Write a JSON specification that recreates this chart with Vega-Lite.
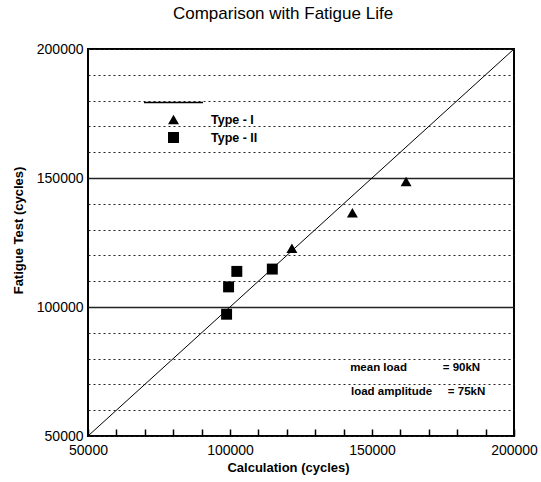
{
  "$schema": "https://vega.github.io/schema/vega-lite/v6.json",
  "width": 426,
  "height": 387,
  "autosize": "none",
  "padding": {"left": 88, "top": 49, "right": 27, "bottom": 46},
  "background": "white",
  "title": {"text": "Comparison with Fatigue Life", "fontSize": 17, "fontWeight": "normal", "font": "Liberation Sans", "anchor": "middle", "dx": -18, "offset": 19, "color": "black"},
  "config": {
    "view": {"stroke": "black", "strokeWidth": 2},
    "axis": {"labelFont": "Liberation Sans", "labelFontSize": 14, "labelColor": "black", "titleFont": "Liberation Sans", "titleFontSize": 13, "titleFontWeight": "bold", "titleColor": "black", "domain": false, "gridColor": "#222", "labelFlush": false, "labelOverlap": false, "tickCount": 15,
      "labelExpr": "datum.value % 50000 === 0 ? format(datum.value, 'd') : ''"},
    "axisX": {
      "ticks": true,
      "tickColor": "black",
      "tickWidth": 1.5,
      "tickSize": -7,
      "labelPadding": 14,
      "titlePadding": 4,
      "titleX": 200,
      "grid": true,
      "gridDash": [2, 3],
      "gridOpacity": {"condition": {"test": "datum.value === 100000 || datum.value === 150000", "value": 1}, "value": 0}
    },
    "axisY": {
      "ticks": false,
      "labelPadding": 5,
      "titlePadding": 11,
      "titleY": 181,
      "grid": true,
      "gridDash": {"condition": {"test": "datum.value === 100000 || datum.value === 150000", "value": []}, "value": [2, 3]},
      "gridWidth": {"condition": {"test": "datum.value === 100000 || datum.value === 150000", "value": 1.5}, "value": 1}
    },
    "text": {"align": "left", "baseline": "middle", "font": "Liberation Sans", "fontSize": 11.5, "fontWeight": "bold", "color": "black"}
  },
  "datasets": {
    "points": [
      {"calc": 98800, "test": 97200, "type": "Type - II"},
      {"calc": 99500, "test": 107800, "type": "Type - II"},
      {"calc": 102400, "test": 113800, "type": "Type - II"},
      {"calc": 114900, "test": 114700, "type": "Type - II"},
      {"calc": 121800, "test": 122800, "type": "Type - I"},
      {"calc": 143100, "test": 136500, "type": "Type - I"},
      {"calc": 162000, "test": 148600, "type": "Type - I"}
    ],
    "diag": [
      {"calc": 50000, "test": 50000, "series": "Calculation"},
      {"calc": 200000, "test": 200000, "series": "Calculation"}
    ]
  },
  "layer": [
    {
      "data": {"name": "diag"},
      "mark": {"type": "line", "strokeWidth": 1},
      "encoding": {
        "x": {"field": "calc", "type": "quantitative", "title": "Calculation (cycles)",
          "scale": {"domain": [50000, 200000], "nice": false, "zero": false}},
        "y": {"field": "test", "type": "quantitative", "title": "Fatigue Test (cycles)",
          "scale": {"domain": [50000, 200000], "nice": false, "zero": false}},
        "color": {"field": "series", "type": "nominal", "scale": {"range": ["black"]},
          "legend": {"orient": "none", "legendX": 55, "legendY": 23, "title": null, "labelExpr": "''", "symbolType": "stroke", "symbolSize": 3481, "symbolStrokeWidth": 1.5, "padding": 0}
        }
      }
    },
    {
      "data": {"name": "points"},
      "mark": {"type": "point", "filled": true, "color": "black", "opacity": 1},
      "encoding": {
        "x": {"field": "calc", "type": "quantitative"},
        "y": {"field": "test", "type": "quantitative"},
        "shape": {"field": "type", "type": "nominal",
          "scale": {"domain": ["Type - I", "Type - II"], "range": ["triangle-up", "square"]},
          "legend": {"orient": "none", "legendX": 79, "legendY": 64, "title": null, "padding": 0, "symbolSize": 120, "symbolFillColor": "black", "symbolStrokeColor": "black", "symbolOpacity": 1, "labelFont": "Liberation Sans", "labelFontSize": 12.5, "labelFontWeight": "bold", "labelColor": "black", "labelOffset": 31, "rowPadding": 1}
        },
        "size": {"value": 120}
      }
    },
    {
      "data": {"values": [{}]},
      "mark": {"type": "text"},
      "encoding": {"x": {"datum": 142300, "type": "quantitative"}, "y": {"datum": 76200, "type": "quantitative"}, "text": {"value": "mean load"}}
    },
    {
      "data": {"values": [{}]},
      "mark": {"type": "text"},
      "encoding": {"x": {"datum": 174900, "type": "quantitative"}, "y": {"datum": 76200, "type": "quantitative"}, "text": {"value": "= 90kN"}}
    },
    {
      "data": {"values": [{}]},
      "mark": {"type": "text"},
      "encoding": {"x": {"datum": 142600, "type": "quantitative"}, "y": {"datum": 67200, "type": "quantitative"}, "text": {"value": "load amplitude"}}
    },
    {
      "data": {"values": [{}]},
      "mark": {"type": "text"},
      "encoding": {"x": {"datum": 176700, "type": "quantitative"}, "y": {"datum": 67200, "type": "quantitative"}, "text": {"value": "= 75kN"}}
    }
  ]
}
